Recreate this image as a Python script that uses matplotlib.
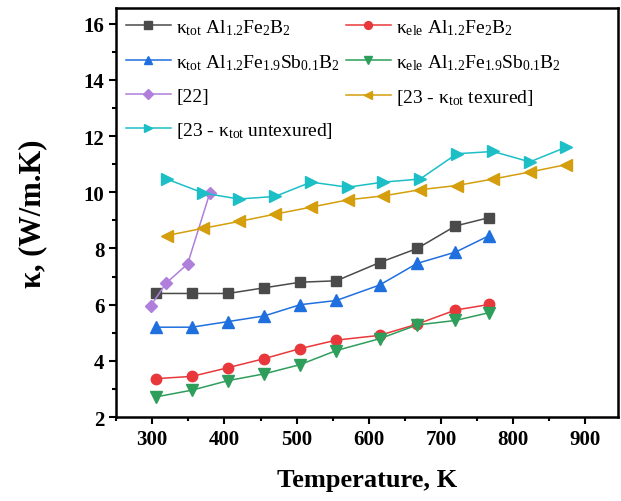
import matplotlib
matplotlib.use("Agg")
import matplotlib.pyplot as plt
from matplotlib.ticker import MultipleLocator

plt.rcParams['font.family'] = ['Liberation Serif', 'DejaVu Serif']
plt.rcParams['mathtext.fontset'] = 'custom'
plt.rcParams['mathtext.rm'] = 'Liberation Serif'
plt.rcParams['mathtext.it'] = 'Liberation Serif:italic'
plt.rcParams['mathtext.bf'] = 'Liberation Serif:bold'

# Data
T_main = [305, 355, 405, 455, 505, 555, 615, 667, 720, 767]
k_tot_AlFeB = [6.4, 6.4, 6.4, 6.6, 6.8, 6.85, 7.5, 8.0, 8.8, 9.1]
k_ele_AlFeB = [3.37, 3.45, 3.76, 4.08, 4.44, 4.74, 4.91, 5.31, 5.81, 6.01]
k_tot_Sb = [5.2, 5.2, 5.4, 5.6, 6.0, 6.15, 6.7, 7.47, 7.87, 8.46]
k_ele_Sb = [2.72, 2.96, 3.3, 3.54, 3.87, 4.37, 4.79, 5.28, 5.44, 5.72]
T_22 = [298, 319, 349, 380]
k_22 = [5.96, 6.76, 7.45, 9.99]
T_23 = [320, 371, 420, 470, 520, 571, 620, 671, 722, 772, 823, 873]
k_23_tex = [8.46, 8.72, 8.96, 9.22, 9.47, 9.73, 9.87, 10.09, 10.24, 10.47, 10.72, 10.98]
k_23_untex = [10.47, 9.97, 9.76, 9.85, 10.36, 10.18, 10.36, 10.47, 11.37, 11.45, 11.08, 11.6]

labels = [
    r'κ$_{\rm tot}$ Al$_{1.2}$Fe$_2$B$_2$',
    r'κ$_{\rm ele}$ Al$_{1.2}$Fe$_2$B$_2$',
    r'κ$_{\rm tot}$ Al$_{1.2}$Fe$_{1.9}$Sb$_{0.1}$B$_2$',
    r'κ$_{\rm ele}$ Al$_{1.2}$Fe$_{1.9}$Sb$_{0.1}$B$_2$',
    '[22]',
    r'[23 - κ$_{\rm tot}$ texured]',
    r'[23 - κ$_{\rm tot}$ untexured]',
]

fig = plt.figure(figsize=(6.21, 5.02), dpi=100)
ax = fig.add_axes([0.187, 0.167, 0.808, 0.816])

ms = 7.5
lw = 1.1
h = []
h += ax.plot(T_main, k_tot_AlFeB, '-s', color='#4a4a4a', ms=ms, lw=lw, label=labels[0])
h += ax.plot(T_main, k_ele_AlFeB, '-o', color='#e8383b', ms=ms, lw=lw, label=labels[1])
h += ax.plot(T_main, k_tot_Sb, '-^', color='#1f6fde', ms=ms + 0.5, lw=lw, label=labels[2])
h += ax.plot(T_main, k_ele_Sb, '-v', color='#2e9e5b', ms=ms + 0.5, lw=lw, label=labels[3])
h += ax.plot(T_22, k_22, '-D', color='#b07fdb', ms=ms - 1, lw=lw, label=labels[4])
h += ax.plot(T_23, k_23_tex, '-<', color='#d49e0c', ms=ms + 0.5, lw=lw, label=labels[5])
h += ax.plot(T_23, k_23_untex, '->', color='#1cbfc6', ms=ms + 0.5, lw=lw, label=labels[6])

ax.set_xlim(250, 945)
ax.set_ylim(2, 16.57)
ax.xaxis.set_major_locator(MultipleLocator(100))
ax.xaxis.set_minor_locator(MultipleLocator(50))
ax.yaxis.set_major_locator(MultipleLocator(2))
ax.yaxis.set_minor_locator(MultipleLocator(1))

for s in ax.spines.values():
    s.set_linewidth(1.8)
ax.tick_params(which='both', direction='out', top=False, right=False, width=1.5)
ax.tick_params(which='major', length=5, labelsize=15)
ax.tick_params(which='minor', length=3)
for lab in ax.get_xticklabels() + ax.get_yticklabels():
    lab.set_fontweight('bold')

ax.set_xlabel('Temperature, K', fontsize=19, fontweight='bold', labelpad=14)
ax.set_ylabel('κ, (W/m.K)', fontsize=22, fontweight='bold', labelpad=26)

order = [0, 2, 4, 6, 1, 3, 5]
leg = ax.legend([h[i] for i in order], [labels[i] for i in order],
                loc='upper left', ncol=2, frameon=False, fontsize=14,
                handlelength=2.3, columnspacing=0.3, handletextpad=0.3,
                borderaxespad=0.1, labelspacing=0.78, markerscale=0.75)

fig.savefig('out.png', dpi=100)
